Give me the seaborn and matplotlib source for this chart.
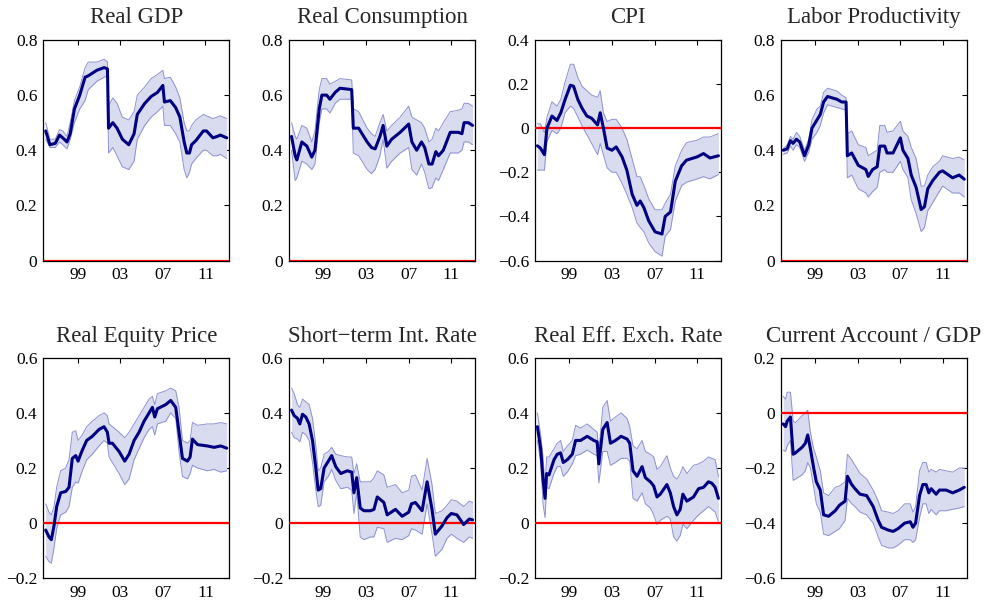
import numpy as np
import pandas as pd
import matplotlib
matplotlib.use("Agg")
import matplotlib.pyplot as plt
from matplotlib.ticker import FuncFormatter, FixedLocator, MultipleLocator
import seaborn as sns

# ---------------- data ----------------
titles = ["Real GDP", "Real Consumption", "CPI", "Labor Productivity",
          "Real Equity Price", "Short\u2212term Int. Rate", "Real Eff. Exch. Rate",
          "Current Account / GDP"]
ylims = [(0, 0.8), (0, 0.8), (-0.6, 0.4), (0, 0.8),
         (-0.2, 0.6), (-0.2, 0.6), (-0.2, 0.6), (-0.6, 0.2)]
xtick_pos = [1999, 2003, 2007, 2011]
xtick_labels = ["99", "03", "07", "11"]

gdp_t = [1996.0, 1996.4, 1996.9, 1997.3, 1997.6, 1998.0, 1998.3, 1998.7, 1999.2, 1999.7,
         2000.0, 2000.8, 2001.5, 2001.8, 2001.9, 2002.3, 2002.7, 2003.2, 2003.8, 2004.3,
         2004.6, 2005.3, 2005.9, 2006.5, 2007.0, 2007.15, 2007.7, 2008.2, 2008.6, 2009.0,
         2009.25, 2009.5, 2009.7, 2010.1, 2010.8, 2011.1, 2011.7, 2012.1, 2012.4, 2013.0]
gdp_mid = [0.47, 0.42, 0.425, 0.455, 0.445, 0.43, 0.46, 0.55, 0.60, 0.665,
           0.67, 0.69, 0.70, 0.695, 0.48, 0.50, 0.48, 0.44, 0.42, 0.46,
           0.53, 0.57, 0.595, 0.61, 0.635, 0.575, 0.58, 0.555, 0.52, 0.43,
           0.39, 0.39, 0.42, 0.435, 0.47, 0.47, 0.445, 0.45, 0.455, 0.445]
gdp_hi = [0.50, 0.44, 0.44, 0.475, 0.47, 0.45, 0.50, 0.58, 0.63, 0.70,
          0.72, 0.72, 0.73, 0.72, 0.56, 0.59, 0.57, 0.52, 0.51, 0.54,
          0.60, 0.63, 0.66, 0.675, 0.69, 0.66, 0.665, 0.63, 0.59, 0.50,
          0.47, 0.47, 0.49, 0.51, 0.53, 0.525, 0.515, 0.52, 0.525, 0.515]
gdp_lo = [0.44, 0.41, 0.41, 0.43, 0.42, 0.405, 0.44, 0.50, 0.55, 0.58,
          0.62, 0.65, 0.665, 0.67, 0.39, 0.41, 0.38, 0.34, 0.33, 0.36,
          0.44, 0.49, 0.52, 0.54, 0.56, 0.49, 0.49, 0.46, 0.43, 0.33,
          0.30, 0.32, 0.35, 0.37, 0.40, 0.40, 0.38, 0.38, 0.385, 0.37]

cons_t = [1996.0, 1996.34, 1996.5, 1996.97, 1997.44, 1997.9, 1998.2, 1998.6, 1998.85, 1999.3,
          1999.6, 2000.1, 2000.55, 2001.65, 2001.8, 2002.3, 2003.1, 2003.5, 2003.85, 2004.3,
          2004.6, 2004.95, 2005.4, 2006.2, 2007.0, 2007.3, 2007.75, 2008.2, 2008.5, 2008.9,
          2009.2, 2009.55, 2009.8, 2010.25, 2010.9, 2011.65, 2012.0, 2012.2, 2012.6, 2013.0]
cons_mid = [0.45, 0.38, 0.365, 0.43, 0.415, 0.375, 0.40, 0.55, 0.60, 0.60,
            0.585, 0.61, 0.625, 0.62, 0.48, 0.48, 0.43, 0.41, 0.405, 0.45,
            0.49, 0.415, 0.44, 0.465, 0.495, 0.43, 0.40, 0.43, 0.41, 0.35,
            0.35, 0.395, 0.38, 0.40, 0.465, 0.465, 0.46, 0.50, 0.50, 0.49]
cons_hi = [0.50, 0.45, 0.44, 0.49, 0.48, 0.43, 0.47, 0.62, 0.66, 0.66,
           0.64, 0.65, 0.66, 0.655, 0.55, 0.54, 0.48, 0.46, 0.45, 0.50,
           0.53, 0.47, 0.49, 0.52, 0.56, 0.52, 0.51, 0.50, 0.48, 0.43,
           0.44, 0.48, 0.47, 0.50, 0.54, 0.545, 0.55, 0.57, 0.57, 0.56]
cons_lo = [0.40, 0.29, 0.30, 0.36, 0.35, 0.33, 0.35, 0.50, 0.55, 0.55,
           0.535, 0.57, 0.585, 0.585, 0.39, 0.38, 0.33, 0.315, 0.33, 0.38,
           0.44, 0.335, 0.36, 0.39, 0.41, 0.33, 0.31, 0.35, 0.32, 0.26,
           0.265, 0.30, 0.29, 0.33, 0.39, 0.39, 0.40, 0.43, 0.43, 0.42]

cpi_t = [1996.0, 1996.28, 1996.66, 1996.9, 1997.37, 1997.84, 1998.2, 1998.6, 1999.1, 1999.4,
         1999.8, 2000.2, 2000.65, 2001.1, 2001.65, 2001.9, 2002.2, 2002.55, 2003.0, 2003.4,
         2003.95, 2004.4, 2004.9, 2005.35, 2005.65, 2006.0, 2006.45, 2007.05, 2007.7, 2008.0,
         2008.5, 2008.95, 2009.55, 2010.0, 2011.0, 2011.6, 2012.2, 2013.0]
cpi_mid = [-0.08, -0.09, -0.12, 0.0, 0.055, 0.035, 0.07, 0.13, 0.195, 0.19,
           0.13, 0.09, 0.055, 0.045, 0.015, 0.07, 0.0, -0.09, -0.10, -0.085,
           -0.13, -0.19, -0.30, -0.35, -0.33, -0.36, -0.42, -0.47, -0.48, -0.40,
           -0.38, -0.24, -0.17, -0.145, -0.13, -0.115, -0.135, -0.125]
cpi_hi = [0.02, 0.02, -0.02, 0.05, 0.12, 0.10, 0.13, 0.21, 0.29, 0.29,
          0.23, 0.19, 0.17, 0.15, 0.14, 0.17, 0.07, 0.03, 0.04, 0.04,
          0.0, -0.05, -0.14, -0.22, -0.22, -0.26, -0.32, -0.37, -0.37, -0.34,
          -0.30, -0.17, -0.10, -0.065, -0.055, -0.04, -0.04, -0.025]
cpi_lo = [-0.19, -0.19, -0.19, -0.06, -0.01, -0.025, 0.0, 0.07, 0.10, 0.09,
          0.05, 0.01, -0.03, -0.07, -0.12, -0.07, -0.12, -0.18, -0.20, -0.20,
          -0.25, -0.30, -0.36, -0.43, -0.45, -0.47, -0.52, -0.56, -0.58, -0.49,
          -0.46, -0.33, -0.26, -0.245, -0.23, -0.22, -0.23, -0.21]

lp_t = [1996.0, 1996.37, 1996.68, 1996.93, 1997.24, 1997.55, 1998.0, 1998.4, 1998.7, 1999.17,
        1999.48, 1999.79, 2000.16, 2001.03, 2001.5, 2001.9, 2002.02, 2002.43, 2003.05, 2003.76,
        2003.98, 2004.39, 2004.82, 2005.07, 2005.53, 2005.75, 2006.31, 2007.0, 2007.24, 2007.71,
        2008.02, 2008.48, 2008.95, 2009.26, 2009.57, 2010.04, 2010.66, 2010.97, 2011.9, 2012.52,
        2013.0]
lp_mid = [0.40, 0.405, 0.435, 0.425, 0.44, 0.43, 0.38, 0.42, 0.48, 0.51,
          0.53, 0.575, 0.595, 0.585, 0.575, 0.575, 0.38, 0.39, 0.345, 0.33,
          0.305, 0.33, 0.34, 0.415, 0.415, 0.39, 0.39, 0.445, 0.40, 0.37,
          0.31, 0.265, 0.185, 0.195, 0.26, 0.29, 0.32, 0.325, 0.30, 0.31,
          0.295]
lp_hi = [0.405, 0.42, 0.45, 0.44, 0.465, 0.45, 0.40, 0.44, 0.51, 0.55,
         0.56, 0.61, 0.625, 0.615, 0.60, 0.59, 0.46, 0.47, 0.42, 0.41,
         0.38, 0.39, 0.40, 0.49, 0.49, 0.465, 0.47, 0.505, 0.47, 0.45,
         0.41, 0.37, 0.27, 0.27, 0.31, 0.34, 0.36, 0.38, 0.37, 0.375,
         0.365]
lp_lo = [0.385, 0.39, 0.415, 0.40, 0.42, 0.41, 0.36, 0.395, 0.44, 0.465,
         0.49, 0.535, 0.565, 0.555, 0.55, 0.545, 0.30, 0.31, 0.26, 0.245,
         0.23, 0.25, 0.265, 0.32, 0.33, 0.32, 0.32, 0.36, 0.33, 0.30,
         0.22, 0.17, 0.105, 0.12, 0.18, 0.21, 0.25, 0.27, 0.245, 0.245,
         0.23]

eq_t = [1996.0, 1996.31, 1996.53, 1996.78, 1997.03, 1997.41, 1997.88, 1998.19, 1998.5, 1998.82,
        1999.04, 1999.44, 1999.85, 2000.38, 2001.01, 2001.48, 2001.79, 2001.95, 2002.26, 2002.89,
        2003.42, 2003.83, 2004.3, 2004.77, 2005.24, 2005.71, 2006.02, 2006.24, 2006.49, 2007.27,
        2007.74, 2008.21, 2008.52, 2008.84, 2009.31, 2009.56, 2009.78, 2010.25, 2011.18, 2011.81,
        2012.44, 2013.0]
eq_mid = [-0.025, -0.05, -0.06, -0.01, 0.06, 0.11, 0.115, 0.13, 0.235, 0.245,
          0.225, 0.265, 0.30, 0.315, 0.34, 0.35, 0.33, 0.29, 0.29, 0.26,
          0.225, 0.25, 0.30, 0.33, 0.37, 0.40, 0.42, 0.385, 0.415, 0.43,
          0.445, 0.42, 0.33, 0.235, 0.225, 0.24, 0.305, 0.285, 0.28, 0.275,
          0.28, 0.272]
eq_hi = [0.07, 0.04, 0.03, 0.06, 0.13, 0.19, 0.20, 0.23, 0.33, 0.335,
         0.30, 0.32, 0.35, 0.37, 0.39, 0.40, 0.39, 0.36, 0.35, 0.33,
         0.31, 0.33, 0.36, 0.39, 0.42, 0.45, 0.46, 0.43, 0.47, 0.48,
         0.49, 0.48, 0.42, 0.30, 0.29, 0.30, 0.365, 0.355, 0.36, 0.36,
         0.365, 0.36]
eq_lo = [-0.12, -0.14, -0.145, -0.09, -0.02, 0.03, 0.04, 0.06, 0.13, 0.15,
         0.145, 0.19, 0.23, 0.25, 0.28, 0.30, 0.29, 0.24, 0.22, 0.18,
         0.14, 0.16, 0.23, 0.27, 0.31, 0.34, 0.35, 0.32, 0.36, 0.37,
         0.40, 0.38, 0.26, 0.17, 0.16, 0.18, 0.21, 0.20, 0.19, 0.195,
         0.185, 0.19]

ir_t = [1996.0, 1996.25, 1996.56, 1996.78, 1997.03, 1997.34, 1997.65, 1997.97, 1998.28, 1998.5,
        1998.74, 1999.06, 1999.46, 1999.77, 2000.15, 2000.62, 2001.24, 2001.65, 2001.86, 2002.12,
        2002.45, 2002.8, 2003.42, 2003.74, 2004.05, 2004.67, 2004.98, 2005.76, 2006.39, 2007.01,
        2007.26, 2007.63, 2008.26, 2008.73, 2009.19, 2009.5, 2010.13, 2010.6, 2011.0, 2011.53,
        2012.16, 2012.69, 2013.0]
ir_mid = [0.41, 0.39, 0.38, 0.36, 0.395, 0.385, 0.36, 0.30, 0.20, 0.12,
          0.125, 0.20, 0.225, 0.245, 0.205, 0.18, 0.19, 0.185, 0.11, 0.165,
          0.055, 0.045, 0.045, 0.05, 0.095, 0.075, 0.03, 0.05, 0.025, 0.04,
          0.07, 0.075, 0.045, 0.15, 0.05, -0.04, -0.01, 0.02, 0.035, 0.03,
          -0.005, 0.015, 0.012]
ir_hi = [0.49, 0.47, 0.43, 0.42, 0.45, 0.44, 0.43, 0.38, 0.28, 0.19,
         0.20, 0.25, 0.26, 0.275, 0.25, 0.245, 0.24, 0.24, 0.18, 0.215,
         0.15, 0.15, 0.15, 0.165, 0.19, 0.175, 0.13, 0.14, 0.11, 0.12,
         0.17, 0.175, 0.12, 0.235, 0.14, 0.035, 0.045, 0.065, 0.085, 0.08,
         0.06, 0.08, 0.075]
ir_lo = [0.33, 0.31, 0.305, 0.295, 0.33, 0.32, 0.30, 0.22, 0.12, 0.06,
         0.065, 0.15, 0.17, 0.195, 0.155, 0.125, 0.13, 0.12, 0.035, 0.11,
         -0.05, -0.06, -0.05, -0.05, -0.015, -0.02, -0.07, -0.055, -0.06, -0.045,
         -0.02, -0.025, -0.04, 0.07, -0.04, -0.12, -0.095, -0.055, -0.04, -0.055,
         -0.07, -0.05, -0.055]

reer_t = [1996.0, 1996.31, 1996.53, 1996.72, 1996.87, 1997.09, 1997.56, 1997.87, 1998.18, 1998.43,
          1998.81, 1999.28, 1999.59, 2000.05, 2000.68, 2001.3, 2001.61, 2001.77, 2002.14, 2002.55,
          2002.86, 2003.33, 2003.86, 2004.42, 2004.67, 2004.98, 2005.36, 2005.83, 2006.14, 2006.61,
          2006.92, 2007.23, 2007.54, 2008.16, 2008.48, 2008.79, 2009.1, 2009.41, 2009.66, 2010.04,
          2010.66, 2011.13, 2011.6, 2012.06, 2012.38, 2012.69, 2013.0]
reer_mid = [0.35, 0.27, 0.16, 0.09, 0.18, 0.175, 0.23, 0.25, 0.255, 0.22,
            0.23, 0.25, 0.30, 0.30, 0.315, 0.30, 0.295, 0.215, 0.34, 0.365,
            0.29, 0.30, 0.315, 0.305, 0.29, 0.19, 0.17, 0.205, 0.165, 0.15,
            0.135, 0.095, 0.105, 0.14, 0.11, 0.06, 0.03, 0.05, 0.105, 0.08,
            0.095, 0.125, 0.13, 0.15, 0.145, 0.13, 0.09]
reer_hi = [0.40, 0.32, 0.24, 0.13, 0.24, 0.24, 0.27, 0.29, 0.30, 0.26,
           0.28, 0.30, 0.355, 0.345, 0.36, 0.34, 0.33, 0.26, 0.42, 0.445,
           0.37, 0.385, 0.40, 0.38, 0.35, 0.28, 0.27, 0.30, 0.26, 0.25,
           0.24, 0.195, 0.205, 0.245, 0.20, 0.17, 0.16, 0.18, 0.205, 0.18,
           0.21, 0.215, 0.225, 0.24, 0.235, 0.23, 0.17]
reer_lo = [0.30, 0.22, 0.07, 0.02, 0.13, 0.125, 0.18, 0.205, 0.205, 0.17,
           0.185, 0.215, 0.245, 0.25, 0.265, 0.25, 0.245, 0.145, 0.26, 0.26,
           0.21, 0.22, 0.235, 0.235, 0.225, 0.09, 0.08, 0.11, 0.07, 0.055,
           0.03, -0.005, 0.01, 0.025, 0.015, -0.05, -0.065, -0.045, -0.005, -0.02,
           0.01, 0.03, 0.045, 0.06, 0.05, 0.04, 0.005]

ca_t = [1996.0, 1996.22, 1996.37, 1996.68, 1996.93, 1997.15, 1997.77, 1998.08, 1998.3, 1998.55,
        1998.86, 1999.11, 1999.48, 1999.79, 2000.26, 2000.88, 2001.28, 2001.81, 2002.03, 2002.43,
        2002.74, 2003.21, 2003.83, 2004.45, 2004.92, 2005.23, 2005.85, 2006.32, 2006.78, 2007.4,
        2007.93, 2008.18, 2008.43, 2008.8, 2009.11, 2009.42, 2009.67, 2009.89, 2010.36, 2010.67,
        2011.29, 2011.91, 2012.53, 2013.0]
ca_mid = [-0.04, -0.05, -0.03, -0.015, -0.15, -0.145, -0.125, -0.11, -0.08, -0.13,
          -0.20, -0.25, -0.28, -0.37, -0.375, -0.355, -0.335, -0.32, -0.23, -0.26,
          -0.275, -0.295, -0.30, -0.34, -0.39, -0.415, -0.425, -0.43, -0.42, -0.40,
          -0.395, -0.415, -0.40, -0.30, -0.26, -0.26, -0.29, -0.275, -0.295, -0.28,
          -0.28, -0.29, -0.28, -0.27]
ca_hi = [0.06, 0.05, 0.075, 0.075, -0.03, -0.035, -0.01, 0.0, 0.01, -0.07,
         -0.13, -0.16, -0.21, -0.29, -0.30, -0.27, -0.265, -0.25, -0.15, -0.17,
         -0.19, -0.22, -0.24, -0.28, -0.32, -0.355, -0.36, -0.365, -0.355, -0.33,
         -0.33, -0.36, -0.34, -0.21, -0.18, -0.18, -0.215, -0.205, -0.215, -0.205,
         -0.21, -0.215, -0.20, -0.20]
ca_lo = [-0.135, -0.14, -0.12, -0.10, -0.245, -0.24, -0.225, -0.21, -0.18, -0.20,
         -0.27, -0.33, -0.36, -0.44, -0.445, -0.43, -0.42, -0.39, -0.31, -0.33,
         -0.34, -0.36, -0.37, -0.40, -0.45, -0.48, -0.49, -0.49, -0.48, -0.46,
         -0.46, -0.47, -0.46, -0.38, -0.33, -0.33, -0.365, -0.35, -0.37, -0.355,
         -0.355, -0.35, -0.345, -0.34]

panels = [
    (gdp_t, gdp_mid, gdp_hi, gdp_lo),
    (cons_t, cons_mid, cons_hi, cons_lo),
    (cpi_t, cpi_mid, cpi_hi, cpi_lo),
    (lp_t, lp_mid, lp_hi, lp_lo),
    (eq_t, eq_mid, eq_hi, eq_lo),
    (ir_t, ir_mid, ir_hi, ir_lo),
    (reer_t, reer_mid, reer_hi, reer_lo),
    (ca_t, ca_mid, ca_hi, ca_lo),
]

# ---------------- style ----------------
sns.set_style("white")
plt.rcParams["font.family"] = ["Liberation Serif", "DejaVu Serif"]
plt.rcParams["axes.unicode_minus"] = True

LINE = "#000080"
FILL = "#d9dbef"
EDGE = "#8d91d2"


def yfmt(v, pos):
    if abs(v) < 1e-9:
        return "0"
    return f"{v:.1f}".replace("-", "\u2212")


fig, axes = plt.subplots(2, 4, figsize=(9.89, 6.03), dpi=100)
fig.subplots_adjust(left=0.0435, right=0.9777, top=0.9337, bottom=0.041,
                    wspace=0.319, hspace=0.441)

for i, ax in enumerate(axes.flat):
    t, mid, hi, lo = panels[i]
    df = pd.DataFrame({"t": t, "mid": mid, "hi": hi, "lo": lo})
    ax.fill_between(df["t"], df["lo"], df["hi"], color=FILL, linewidth=0, zorder=1)
    sns.lineplot(data=df, x="t", y="hi", ax=ax, color=EDGE, linewidth=0.7, zorder=2)
    sns.lineplot(data=df, x="t", y="lo", ax=ax, color=EDGE, linewidth=0.7, zorder=2)
    ax.axhline(0, color="#ff0000", linewidth=1.6, zorder=3)
    sns.lineplot(data=df, x="t", y="mid", ax=ax, color=LINE, linewidth=2.2, zorder=4)

    ax.set_xlim(1995.75, 2013.25)
    ax.set_ylim(*ylims[i])
    ax.xaxis.set_major_locator(FixedLocator(xtick_pos))
    ax.set_xticklabels(xtick_labels)
    ax.yaxis.set_major_locator(MultipleLocator(0.2))
    ax.yaxis.set_major_formatter(FuncFormatter(yfmt))
    ax.set_xlabel("")
    ax.set_ylabel("")
    ax.tick_params(direction="in", length=3.5, width=0.8, top=True, right=True,
                   labelsize=12.5, colors="black")
    ax.tick_params(axis="x", pad=5)
    ax.tick_params(axis="y", pad=4)
    for s in ax.spines.values():
        s.set_visible(True)
        s.set_color("black")
        s.set_linewidth(0.9)
    ax.set_title(titles[i], fontsize=16.5, pad=12 if i < 4 else 11)

fig.savefig("out.png", dpi=100)
